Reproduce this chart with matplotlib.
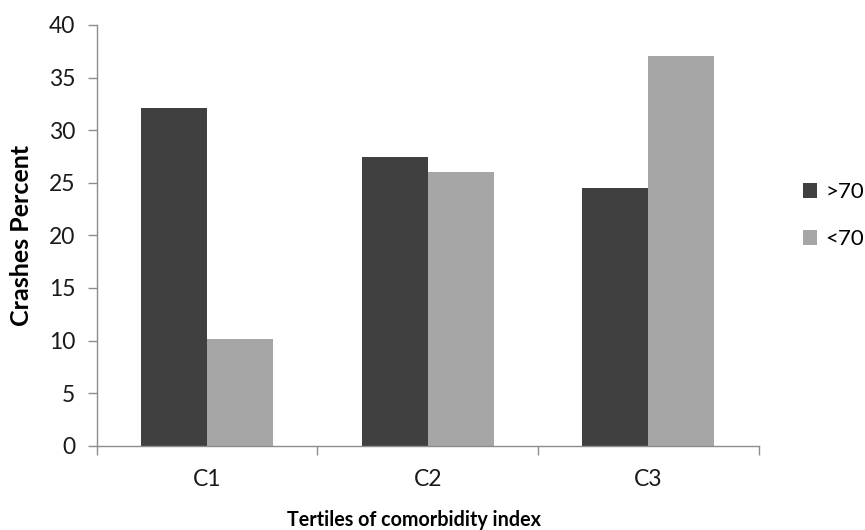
import matplotlib
matplotlib.use("Agg")
import matplotlib.pyplot as plt
import numpy as np

categories = ["C1", "C2", "C3"]
series_names = [">70", "<70"]
over70 = [32.1, 27.4, 24.5]
under70 = [10.1, 26.0, 37.0]
yticks = [0, 5, 10, 15, 20, 25, 30, 35, 40]

plt.rcParams['font.family'] = ['Lato', 'DejaVu Sans']

fig = plt.figure(figsize=(8.65, 5.3), dpi=100)
ax = fig.add_axes([0.112, 0.159, 0.765, 0.794])

x = np.arange(len(categories))
w = 0.3
dark = "#404040"
light = "#a6a6a6"
b1 = ax.bar(x - w / 2, over70, width=w, color=dark, label=series_names[0])
b2 = ax.bar(x + w / 2, under70, width=w, color=light, label=series_names[1])

ax.set_xlim(-0.5, len(categories) - 0.5)
ax.set_ylim(0, 40)
ax.set_yticks(yticks)
ax.set_yticklabels([str(v) for v in yticks])

# category boundaries as major ticks, labels at centres
ax.set_xticks(np.arange(len(categories) + 1) - 0.5)
ax.set_xticklabels([])
ax.set_xticks(x, minor=True)
ax.set_xticklabels(categories, minor=True)

axis_col = "#8c8c8c"
for s in ["top", "right"]:
    ax.spines[s].set_visible(False)
for s in ["left", "bottom"]:
    ax.spines[s].set_color(axis_col)
    ax.spines[s].set_linewidth(1.0)

ax.tick_params(axis="y", which="major", direction="out", length=6.5, width=1,
               color=axis_col, pad=9, labelsize=16.5, labelcolor="#1a1a1a")
ax.tick_params(axis="x", which="major", direction="out", length=6.5, width=1,
               color=axis_col)
ax.tick_params(axis="x", which="minor", length=0, pad=17, labelsize=16.5,
               labelcolor="#1a1a1a")

ax.set_ylabel("Crashes Percent", fontsize=18, fontweight="bold")
ax.yaxis.set_label_coords(-0.097, 0.5)
fig.text(0.478, 0.019, "Tertiles of comorbidity index", fontsize=14.2,
         fontweight="bold", ha="center", va="center")

fig.legend(handles=[b1, b2], labels=series_names, loc="center left",
           bbox_to_anchor=(0.928, 0.593), frameon=False, fontsize=16,
           borderpad=0, borderaxespad=0,
           handlelength=0.65, handleheight=0.65, handletextpad=0.36,
           labelspacing=1.2)

fig.savefig("out.png", dpi=100)
